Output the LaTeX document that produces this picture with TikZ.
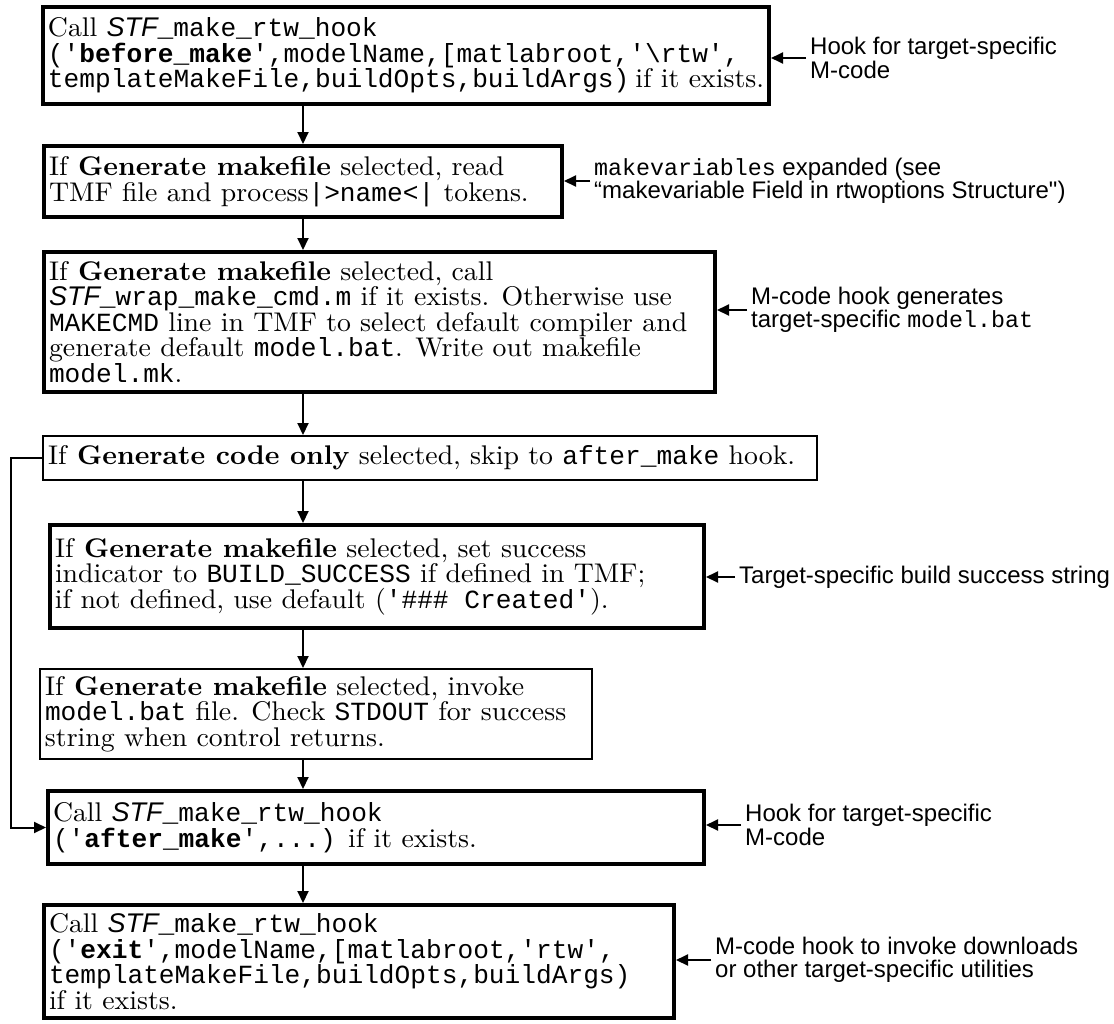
\documentclass[tikz,border=0pt]{standalone}
\usepackage{fontspec}
\setmainfont{lmroman10-regular.otf}[
  BoldFont=lmroman10-bold.otf,
  ItalicFont=lmroman10-italic.otf,
  FakeStretch=1.03]
\newfontfamily\codefont{Liberation Mono}[Scale=0.97,Ligatures=TeXOff]
\newfontfamily\notefont{Liberation Sans}[Ligatures=TeXOff]
\usetikzlibrary{arrows.meta}

% inline code and the italic target prefix
\newcommand\cd[1]{{\codefont #1}}
\newcommand\stf{{\notefont\itshape STF}}
% first line of a step text, padded to the inner width of its box
\newcommand\fline[2]{\makebox[#1][l]{#2}}

\begin{document}
\begin{tikzpicture}[x=1pt,y=-1pt,
  stepbox/.style={draw, line width=4pt, inner xsep=5pt, inner ysep=0pt,
    align=left, font=\fontsize{27}{25.5}\selectfont},
  thinbox/.style={stepbox, line width=2pt},
  flow/.style={line width=2pt, -{Triangle[length=12pt,width=11pt]}},
  note/.style={font=\notefont\fontsize{24}{23.5}\selectfont, align=left,
    anchor=west, inner xsep=4pt, inner ysep=0pt},
]
\useasboundingbox (0,0) rectangle (1114,1023);

% process steps
\node[stepbox, minimum width=724pt, minimum height=97pt] (b1) at (406,55.5)
  {\fline{714pt}{Call \stf\cd{\_make\_rtw\_hook}}\\
   \cd{('\textbf{before\_make}',modelName,[matlabroot,'\textbackslash rtw',}\\
   \cd{templateMakeFile,buildOpts,buildArgs)}\hspace{6pt}if it exists.};

\node[stepbox, minimum width=518pt, minimum height=71pt] (b2) at (303,181.5)
  {\fline{508pt}{If \textbf{Generate makefile} selected, read}\\
   TMF file and process\cd{|>name<|} tokens.};

\node[stepbox, minimum width=671pt, minimum height=140pt] (b3) at (379.5,322)
  {\fline{661pt}{If \textbf{Generate makefile} selected, call}\\
   \stf\cd{\_wrap\_make\_cmd.m} if it exists. Otherwise use\\
   \cd{MAKECMD} line in TMF to select default compiler and\\
   generate default \cd{model.bat}. Write out makefile\\
   \cd{model.mk}.};

\node[thinbox, minimum width=774pt, minimum height=44pt] (b4) at (430,458)
  {\fline{764pt}{If \textbf{Generate code only} selected, skip to \cd{after\_make} hook.}};

\node[stepbox, minimum width=654pt, minimum height=103pt] (b5) at (377,576.5)
  {\fline{644pt}{If \textbf{Generate makefile} selected, set success}\\
   indicator to \cd{BUILD\_SUCCESS} if defined in TMF;\\
   if not defined, use default (\cd{'\#\#\# Created'}).};

\node[thinbox, minimum width=552pt, minimum height=90pt] (b6) at (316,714)
  {\fline{542pt}{If \textbf{Generate makefile} selected, invoke}\\
   \cd{model.bat} file. Check \cd{STDOUT} for success\\
   string when control returns.};

\node[stepbox, minimum width=656pt, minimum height=73pt] (b7) at (376,827.5)
  {\fline{646pt}{Call \stf\cd{\_make\_rtw\_hook}}\\
   \cd{('\textbf{after\_make}',...)} if it exists.};

\node[stepbox, minimum width=630pt, minimum height=113pt] (b8) at (359,961.5)
  {\fline{620pt}{Call \stf\cd{\_make\_rtw\_hook}}\\
   \cd{('\textbf{exit}',modelName,[matlabroot,'rtw',}\\
   \cd{templateMakeFile,buildOpts,buildArgs)}\\
   if it exists.};

% side notes
\node[note] (n1) at (806,58) {Hook for target-specific\\M-code};
\node[note] (n2) at (590,181) {\cd{makevariables} expanded (see\\“makevariable Field in rtwoptions Structure")};
\node[note] (n3) at (747,310) {M-code hook generates\\target-specific \cd{model.bat}};
\node[note] (n5) at (735,577) {Target-specific build success string};
\node[note] (n7) at (741,825) {Hook for target-specific\\M-code};
\node[note] (n8) at (711,960) {M-code hook to invoke downloads\\or other target-specific utilities};

% main flow
\coordinate (ax) at (303,0);
\draw[flow] (b1.south -| ax) -- (b2.north -| ax);
\draw[flow] (b2.south -| ax) -- (b3.north -| ax);
\draw[flow] (b3.south -| ax) -- (b4.north -| ax);
\draw[flow] (b4.south -| ax) -- (b5.north -| ax);
\draw[flow] (b5.south -| ax) -- (b6.north -| ax);
\draw[flow] (b6.south -| ax) -- (b7.north -| ax);
\draw[flow] (b7.south -| ax) -- (b8.north -| ax);

% skip path for code-only generation
\coordinate (skip) at (11,458);
\draw[flow] (b4.west) -- (skip) |- (b7.west);

% note arrows
\foreach \n/\b in {n1/b1, n2/b2, n3/b3, n5/b5, n7/b7, n8/b8}
  \draw[flow] (\n.west) -- (\n.west -| \b.east);
\end{tikzpicture}
\end{document}
